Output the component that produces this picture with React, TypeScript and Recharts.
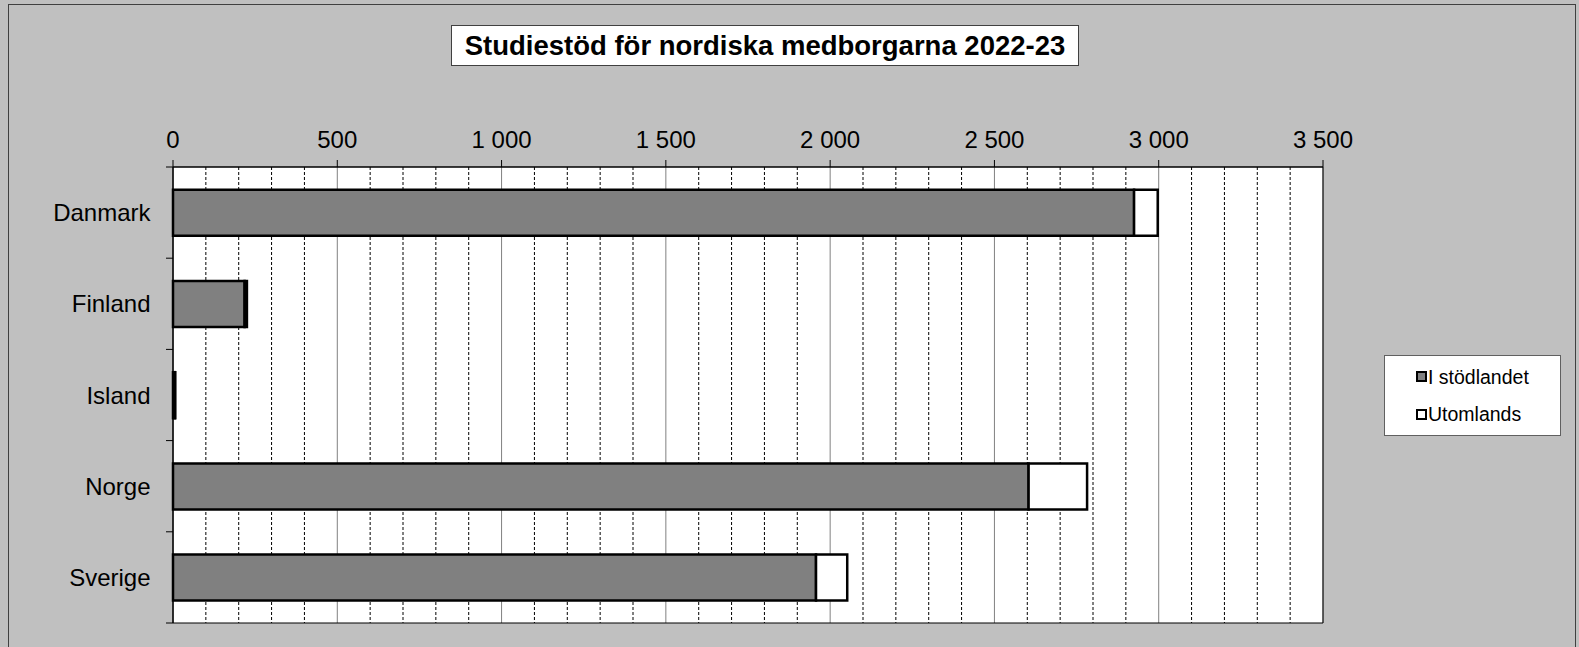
import React from 'react';
import { BarChart, Bar, XAxis, YAxis, CartesianGrid, ReferenceArea } from 'recharts';

const categories = ['Danmark', 'Finland', 'Island', 'Norge', 'Sverige'];
const iStodlandet = [2925, 218, 5, 2604, 1957];
const utomlands = [72, 7, 2, 178, 95];
const majorTicks = [0, 500, 1000, 1500, 2000, 2500, 3000, 3500];
const minorTicks = [100, 200, 300, 400, 600, 700, 800, 900, 1100, 1200, 1300, 1400, 1600, 1700, 1800, 1900, 2100, 2200, 2300, 2400, 2600, 2700, 2800, 2900, 3100, 3200, 3300, 3400];
const seriesNames = ['I stödlandet', 'Utomlands'];
const seriesColors = ['#808080', '#ffffff'];
const title = 'Studiestöd för nordiska medborgarna 2022-23';

const data = categories.map((c, i) => ({ name: c, a: iStodlandet[i], b: utomlands[i] }));

const FONT = '"Liberation Sans", Arial, sans-serif';
const X_MAX = 3500;

const fmt = (v: number) => {
  const s = String(v);
  return s.length > 3 ? s.slice(0, s.length - 3) + ' ' + s.slice(-3) : s;
};

const makeGen = (values: number[]) => (props: any) => {
  const { xAxis, offset } = props;
  if (xAxis && typeof xAxis.scale === 'function') {
    return values.map((v) => xAxis.scale(v));
  }
  return values.map((v) => offset.left + (v / X_MAX) * offset.width);
};

const CatTick = (props: any) => {
  const { x, y, payload, index } = props;
  const off = payload.offset || 0;
  const axisX = x + 22.5;
  return (
    <g>
      <text x={x} y={y} textAnchor="end" dominantBaseline="central" fontSize={24} fontFamily={FONT} fill="#000">
        {payload.value}
      </text>
      <line x1={axisX - 7} x2={axisX} y1={y - off} y2={y - off} stroke="#000" strokeWidth={1} />
      {index === categories.length - 1 && (
        <line x1={axisX - 7} x2={axisX} y1={y + off} y2={y + off} stroke="#000" strokeWidth={1} />
      )}
    </g>
  );
};

export default function App() {
  return (
    <div style={{ position: 'fixed', left: 0, top: 0, width: 1579, height: 647, overflow: 'hidden', background: '#c0c0c0' }}>
      <div
        style={{
          position: 'absolute',
          left: 8,
          top: 4,
          width: 1568,
          height: 700,
          boxSizing: 'border-box',
          border: '1px solid #404040',
        }}
      />
      <div
        style={{
          position: 'absolute',
          left: 451,
          top: 25,
          width: 628,
          height: 41,
          boxSizing: 'border-box',
          background: '#fff',
          border: '1px solid #404040',
          fontFamily: FONT,
          fontWeight: 'bold',
          fontSize: 27.5,
          display: 'flex',
          alignItems: 'center',
          justifyContent: 'center',
          color: '#000',
        }}
      >
        {title}
      </div>
      <div
        style={{
          position: 'absolute',
          left: 1384,
          top: 355,
          width: 177,
          height: 81,
          boxSizing: 'border-box',
          background: '#fff',
          border: '1px solid #606060',
          paddingTop: 2,
          paddingLeft: 31,
          fontFamily: FONT,
        }}
      >
        {seriesNames.map((n, i) => (
          <div key={i} style={{ height: 37.5, display: 'flex', alignItems: 'center' }}>
            <svg width={11} height={11} style={{ marginRight: 1 }}>
              <rect x={1} y={1} width={9} height={9} fill={seriesColors[i]} stroke="#000" strokeWidth={2} />
            </svg>
            <span style={{ fontSize: 19.5, color: '#000', lineHeight: '22px' }}>{n}</span>
          </div>
        ))}
      </div>
      <div style={{ position: 'absolute', left: 0, top: 0 }}>
        <BarChart
          width={1579}
          height={647}
          data={data}
          layout="vertical"
          margin={{ top: 127, right: 256, bottom: 24, left: 12 }}
          barCategoryGap="25%"
        >
          <CartesianGrid fill="#fff" horizontal={false} vertical={false} />
          <CartesianGrid
            horizontal={false}
            stroke="#000"
            strokeDasharray="3 2"
            verticalCoordinatesGenerator={makeGen(minorTicks)}
          />
          <CartesianGrid
            horizontal={false}
            stroke="#808080"
            verticalCoordinatesGenerator={makeGen(majorTicks)}
          />
          <XAxis
            type="number"
            orientation="top"
            domain={[0, X_MAX]}
            ticks={majorTicks}
            tickFormatter={fmt}
            height={40}
            tickSize={7}
            tickMargin={12}
            axisLine={{ stroke: '#000' }}
            tickLine={{ stroke: '#000' }}
            tick={{ fontSize: 24, fontFamily: FONT, fill: '#000' }}
            interval={0}
          />
          <YAxis
            type="category"
            dataKey="name"
            width={161}
            tickSize={7}
            tickMargin={15.5}
            tickLine={false}
            axisLine={{ stroke: '#000' }}
            tick={<CatTick />}
            interval={0}
          />
          <Bar dataKey="a" name={seriesNames[0]} stackId="s" fill={seriesColors[0]} stroke="#000" strokeWidth={2.5} isAnimationActive={false} />
          <Bar dataKey="b" name={seriesNames[1]} stackId="s" fill={seriesColors[1]} stroke="#000" strokeWidth={2.5} isAnimationActive={false} />
          <ReferenceArea x1={0} x2={X_MAX} fill="none" fillOpacity={0} stroke="#000" strokeWidth={1} ifOverflow="visible" />
        </BarChart>
      </div>
    </div>
  );
}
